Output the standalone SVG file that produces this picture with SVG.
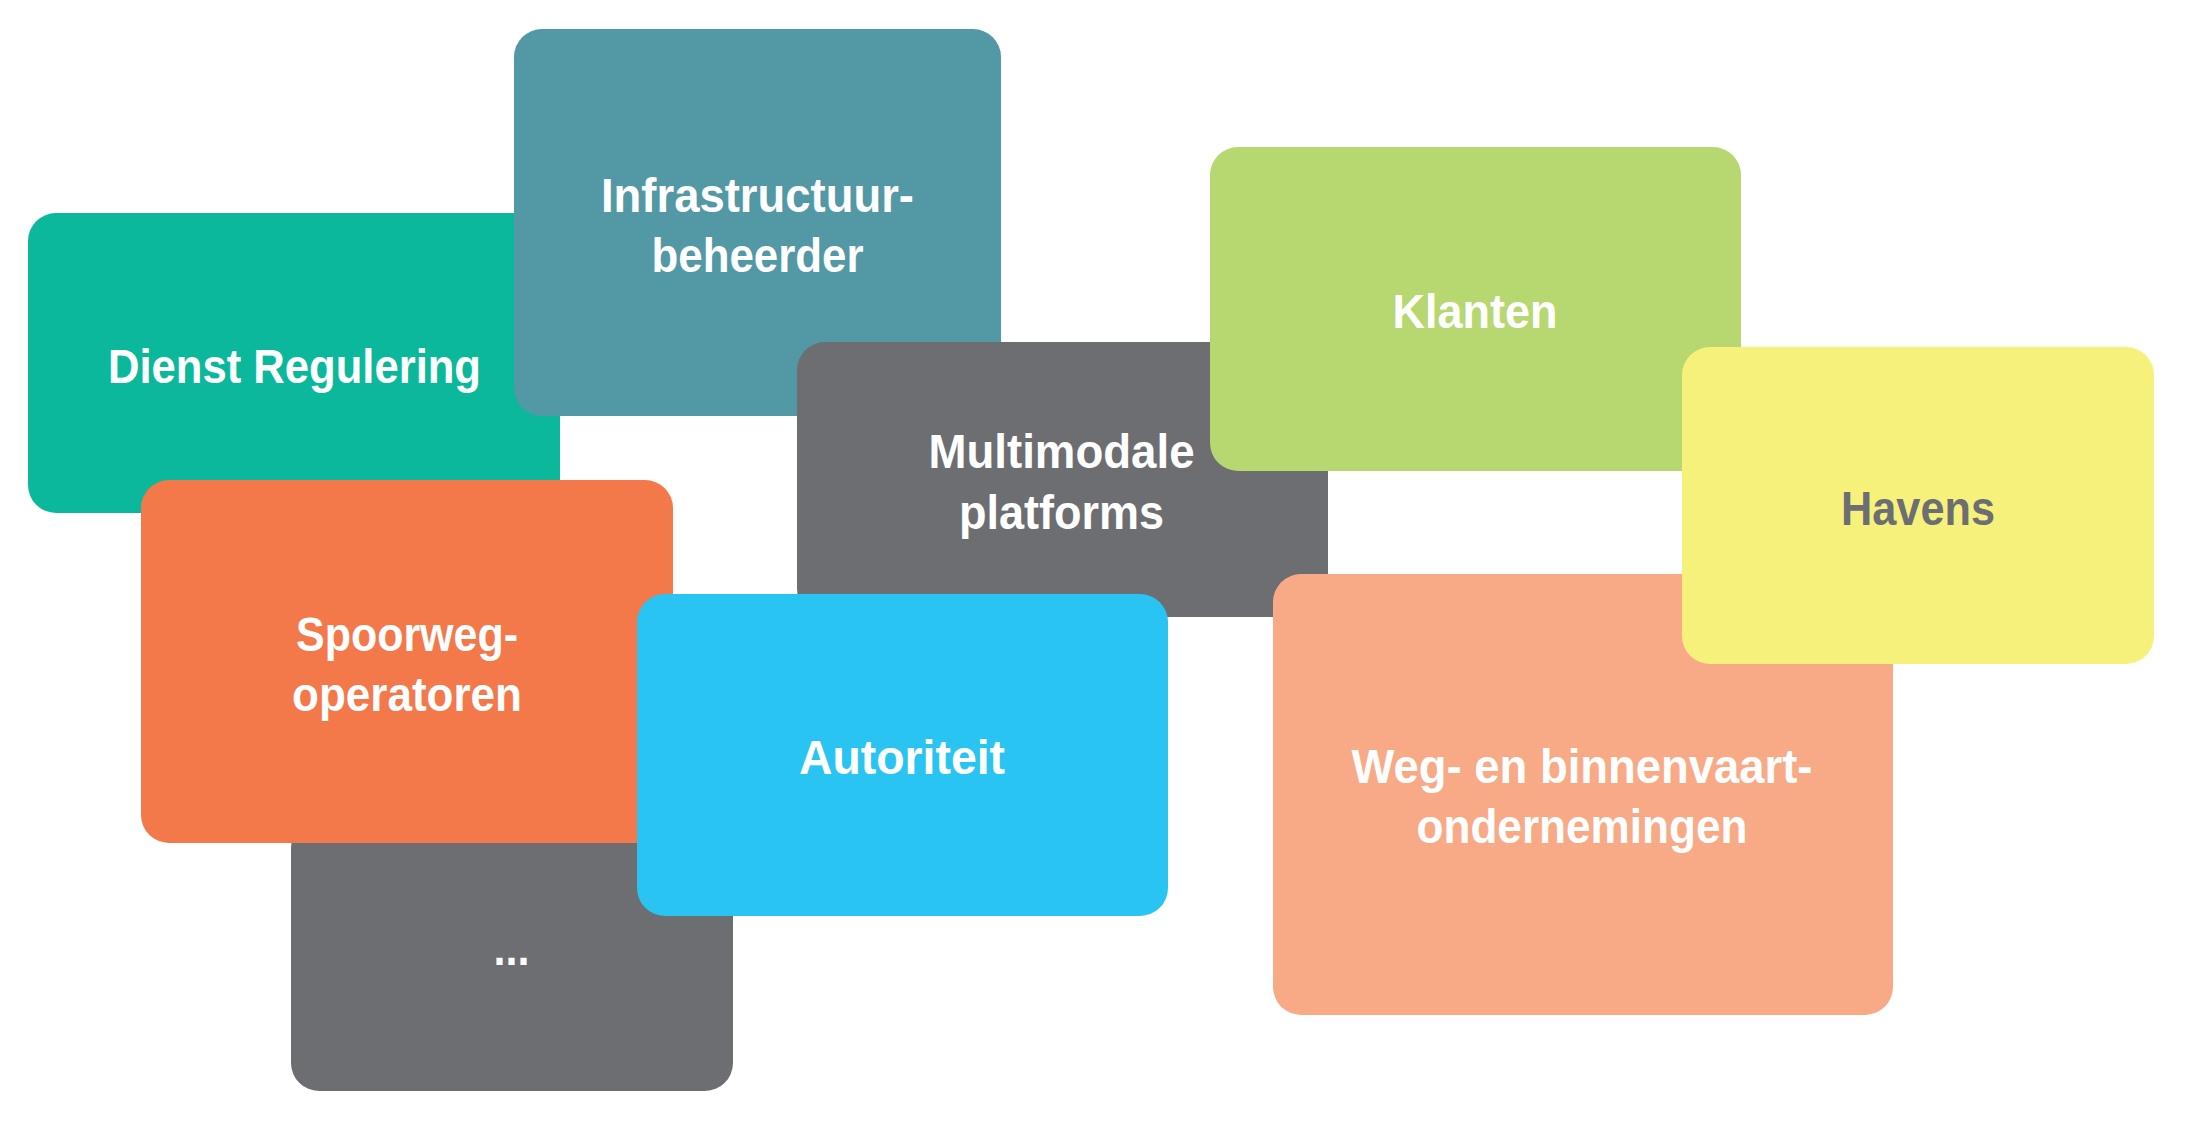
<svg xmlns="http://www.w3.org/2000/svg" width="2185" height="1122" viewBox="0 0 2185 1122">
<style>
  .box { stroke: none; }
  .lbl { font-family: "Liberation Sans", Arial, sans-serif; font-weight: bold; font-size: 48px; fill: #ffffff; text-anchor: middle; }
  .dark { fill: #6d6e72; }
</style>
<rect width="2185" height="1122" fill="#ffffff"/>
<g id="connectors"></g>
<g id="node-dienst-regulering">
  <rect class="box" x="28" y="213" width="532" height="300" rx="28" fill="#0cb89c"/>
  <text class="lbl" x="294.5" y="383" textLength="373" lengthAdjust="spacingAndGlyphs">Dienst Regulering</text>
</g>
<g id="node-infrastructuurbeheerder">
  <rect class="box" x="514" y="29" width="487" height="387" rx="28" fill="#5398a5"/>
  <text class="lbl" x="757.5" y="212" textLength="313" lengthAdjust="spacingAndGlyphs">Infrastructuur-</text>
  <text class="lbl" x="757.5" y="272" textLength="212" lengthAdjust="spacingAndGlyphs">beheerder</text>
</g>
<g id="node-multimodale-platforms">
  <rect class="box" x="797" y="342" width="531" height="275" rx="28" fill="#6d6e72"/>
  <text class="lbl" x="1061.5" y="468" textLength="266" lengthAdjust="spacingAndGlyphs">Multimodale</text>
  <text class="lbl" x="1061.5" y="529" textLength="205" lengthAdjust="spacingAndGlyphs">platforms</text>
</g>
<g id="node-klanten">
  <rect class="box" x="1210" y="147" width="531" height="324" rx="28" fill="#b7d770"/>
  <text class="lbl" x="1475" y="328" textLength="165" lengthAdjust="spacingAndGlyphs">Klanten</text>
</g>
<g id="node-weg-binnenvaart">
  <rect class="box" x="1273" y="574" width="620" height="441" rx="28" fill="#f8aa87"/>
  <text class="lbl" x="1582" y="783" textLength="461" lengthAdjust="spacingAndGlyphs">Weg- en binnenvaart-</text>
  <text class="lbl" x="1582" y="843" textLength="331" lengthAdjust="spacingAndGlyphs">ondernemingen</text>
</g>
<g id="node-havens">
  <rect class="box" x="1682" y="347" width="472" height="317" rx="28" fill="#f6f17b"/>
  <text class="lbl dark" x="1918" y="525" textLength="154" lengthAdjust="spacingAndGlyphs">Havens</text>
</g>
<g id="node-overige">
  <rect class="box" x="291" y="820" width="442" height="271" rx="28" fill="#6d6e72"/>
  <text class="lbl" x="511.5" y="965" textLength="36" lengthAdjust="spacingAndGlyphs">...</text>
</g>
<g id="node-spoorwegoperatoren">
  <rect class="box" x="141" y="480" width="532" height="363" rx="28" fill="#f3784a"/>
  <text class="lbl" x="407" y="651" textLength="222" lengthAdjust="spacingAndGlyphs">Spoorweg-</text>
  <text class="lbl" x="407" y="711" textLength="230" lengthAdjust="spacingAndGlyphs">operatoren</text>
</g>
<g id="node-autoriteit">
  <rect class="box" x="637" y="594" width="531" height="322" rx="28" fill="#2ac4f2"/>
  <text class="lbl" x="902" y="774" textLength="206" lengthAdjust="spacingAndGlyphs">Autoriteit</text>
</g>
</svg>
